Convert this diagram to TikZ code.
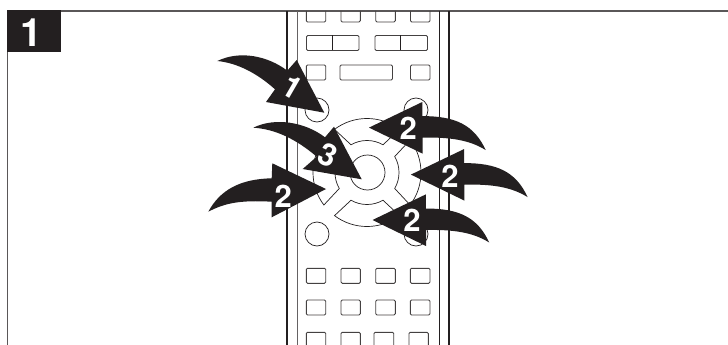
\documentclass[tikz,border=0pt]{standalone}
\usepackage{fontspec}
\newfontfamily\numfont[BoldFont={* Bold}]{TeX Gyre Heros}
\definecolor{ink}{HTML}{231F20}
\tikzset{
  rule/.style={draw=ink!75,line width=1.2pt},
  railthick/.style={draw=ink,line width=1.5pt},
  railthin/.style={draw=ink,line width=0.9pt},
  railgrey/.style={draw=ink!70,line width=0.8pt},
  btn/.style={draw=ink!85,line width=0.9pt,rounded corners=1.2pt},
  ring/.style={draw=ink,line width=0.7pt,fill=white},
  pad/.style={draw=ink,line width=0.7pt,line join=miter},
  pointer/.style={fill=ink,draw=none},
  digit/.style={text=white,font=\numfont\bfseries\fontsize{31}{31}\selectfont,inner sep=0pt},
  bignum/.style={text=white,font=\numfont\bfseries\fontsize{39}{39}\selectfont,inner sep=0pt}
}
% left-pointing arrow with its tip at #1
\newcommand{\leftptr}[1]{%
  \fill[pointer,shift={(#1)}] (0,0) -- (53.3,-25.6) -- (53.3,-11.5)
    .. controls (86,-11.5) and (105,-3) .. (116.7,22.5)
    .. controls (100,12) and (80,9.5) .. (53.5,10)
    -- (53.5,26) -- cycle;}
\begin{document}
\begin{tikzpicture}[x=1pt,y=-1pt]
\clip (0,0) rectangle (728,345);
\fill[white] (0,0) rectangle (728,345);
% frame
\draw[rule] (61,11) -- (728,11);
\draw[rule] (7.5,52) -- (7.5,345);
\fill[ink] (7,10) rectangle (61,52);
\node[bignum] (boxnum) at (31,33) {1};
% remote casing
\draw[railthick] (287,11) -- (287,345);
\draw[railgrey] (297.5,11) -- (297.5,345);
\draw[railthin] (439.5,11) -- (439.5,345);
\draw[railthick] (449,11) -- (449,345);
% first row, cut by the top rule
\foreach \a/\b in {306.3/325.7,341/360.3,375.7/395.3,410.5/430}
  \draw[btn] (\a,11) -- (\a,22) -- (\b,22) -- (\b,11);
% second row
\draw[btn] (306.5,35.5) rectangle (359,50.5);
\draw[btn] (375,35.5) rectangle (427.5,50.5);
\draw[railthin] (332.5,35.5) -- (332.5,50.5);
\draw[railthin] (400.5,35.5) -- (400.5,50.5);
% third row
\draw[btn] (306.3,65) rectangle (325.7,80);
\draw[btn] (340,65) rectangle (392.5,80);
\draw[btn] (410.5,65) rectangle (430,80);
% round buttons
\foreach \x/\y in {317/110,416/110,317/234,416/234}
  \draw[ring] (\x,\y) circle[radius=12pt];
% direction pad
\coordinate (c) at (367,172.5);
\draw[ring] (367.5,172.5) circle[radius=17.5pt];
\draw[pad] ([shift={(127:54pt)}]c) arc[start angle=127,end angle=53,radius=54pt]
  -- ([shift={(60:32pt)}]c) arc[start angle=60,end angle=120,radius=32pt] -- cycle;
\draw[pad] ([shift={(233:54pt)}]c) arc[start angle=233,end angle=307,radius=54pt]
  -- ([shift={(300:32pt)}]c) arc[start angle=300,end angle=240,radius=32pt] -- cycle;
\draw[pad] ([shift={(143:54pt)}]c) arc[start angle=143,end angle=217,radius=54pt]
  -- ([shift={(210:32pt)}]c) arc[start angle=210,end angle=150,radius=32pt] -- cycle;
\draw[pad] ([shift={(37:54pt)}]c) arc[start angle=37,end angle=-37,radius=54pt]
  -- ([shift={(-30:32pt)}]c) arc[start angle=-30,end angle=30,radius=32pt] -- cycle;
% lower rows
\foreach \y in {268.3,300}
  \foreach \a/\b in {306.3/325.7,341/360.3,375.7/395.3,410.3/430}
    \draw[btn] (\a,\y) rectangle (\b,\y+15);
\foreach \a/\b in {306.3/325.7,341/360.3,374/393.7,409/428.3}
  \draw[btn] (\a,345) -- (\a,332.3) -- (\b,332.3) -- (\b,345);
% pointers
\fill[pointer] (217.3,61) .. controls (240,50) and (268,56) .. (287.3,70.7)
  -- (296.7,60) -- (324.3,112.7) -- (266,102) -- (275,89.3)
  .. controls (258,74) and (238,63) .. cycle;
\fill[pointer] (253.3,127.7) .. controls (275,117) and (305,122) .. (325,137.3)
  -- (334,126.7) -- (361.7,179.3) -- (302.7,169) -- (316.7,156.7)
  .. controls (296,139) and (275,129) .. cycle;
\fill[pointer] (208.3,211.7) .. controls (220,190) and (240,179) .. (271.7,178.3)
  -- (272.3,163.3) -- (326,189) -- (271.7,217.3) -- (271.7,201.7)
  .. controls (240,200) and (225,203) .. cycle;
\leftptr{369,127.6}
\leftptr{410.9,174.6}
\leftptr{372.5,220}
% numbers
\node[digit,rotate=-30] (n1) at (292.3,87.3) {1};
\node[digit,rotate=-25] (n3) at (328.3,155) {3};
\node[digit] (n2a) at (408.3,128.3) {2};
\node[digit] (n2b) at (283.3,196.7) {2};
\node[digit] (n2c) at (450,176) {2};
\node[digit] (n2d) at (412,220.7) {2};
\end{tikzpicture}
\end{document}
